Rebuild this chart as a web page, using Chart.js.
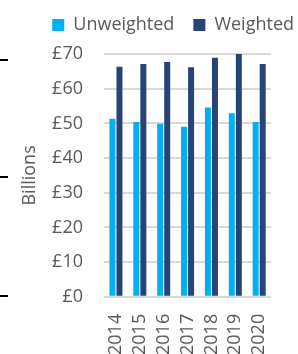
<!DOCTYPE html>
<html>
<head>
<meta charset="utf-8">
<script src="https://cdn.jsdelivr.net/npm/chart.js@4"></script>
<style>
  html, body { margin: 0; padding: 0; background: #fff; overflow: hidden; }
  #wrap { position: relative; width: 298px; height: 354px; overflow: hidden; }
  #box { position: absolute; left: 0; top: 0; width: 298px; height: 372px; }
  .dash { position: absolute; left: 0; width: 8px; height: 2px; background: #000; }
</style>
</head>
<body>
<div id="wrap">
  <div id="box"><canvas id="chart"></canvas></div>
  <div class="dash" style="top:59px"></div>
  <div class="dash" style="top:176px"></div>
  <div class="dash" style="top:295px"></div>
</div>
<script>
const years = ['2014', '2015', '2016', '2017', '2018', '2019', '2020'];
const unweighted = [51.3, 50.4, 49.9, 49.0, 54.6, 52.9, 50.4];
const weighted = [66.3, 67.1, 67.7, 66.2, 68.9, 70.0, 67.1];
const yTicks = [0, 10, 20, 30, 40, 50, 60, 70];

const grey = '#595959';
const font = { family: 'Open Sans', size: 18 };

// move the legend a bit to the right and up, like the original
const legendNudge = {
  id: 'legendNudge',
  afterLayout(chart) {
    chart.legend.left += 18;
    chart.legend.right += 18;
    chart.legend.top -= 10;
  }
};

new Chart(document.getElementById('chart'), {
  type: 'bar',
  data: {
    labels: years,
    datasets: [
      { label: 'Unweighted', data: unweighted, backgroundColor: '#00B0F0' },
      { label: 'Weighted', data: weighted, backgroundColor: '#264478' }
    ]
  },
  options: {
    responsive: true,
    maintainAspectRatio: false,
    animation: false,
    devicePixelRatio: 1,
    layout: { padding: { left: 0, right: 3, top: 7, bottom: 0 } },
    datasets: { bar: { categoryPercentage: 0.59, barPercentage: 0.85 } },
    plugins: {
      tooltip: { enabled: false },
      legend: {
        align: 'end',
        labels: {
          color: grey,
          font: font,
          boxWidth: 12,
          boxHeight: 12,
          padding: 19
        }
      }
    },
    scales: {
      x: {
        grid: { display: false, drawTicks: false },
        border: { display: false },
        ticks: { color: grey, font: font, minRotation: 90, maxRotation: 90, autoSkip: false, padding: 17 }
      },
      y: {
        min: 0,
        max: 70,
        afterBuildTicks: axis => { axis.ticks = yTicks.map(v => ({ value: v })); },
        afterFit: axis => { axis.width = 104; },
        grid: { color: '#d9d9d9', lineWidth: 2, drawTicks: false },
        border: { display: false },
        ticks: { color: grey, font: font, padding: 21, callback: v => '£' + v },
        title: { display: true, text: 'Billions', color: grey, font: font, padding: { top: 19, bottom: 13 } }
      }
    }
  },
  plugins: [legendNudge]
});
</script>
</body>
</html>
